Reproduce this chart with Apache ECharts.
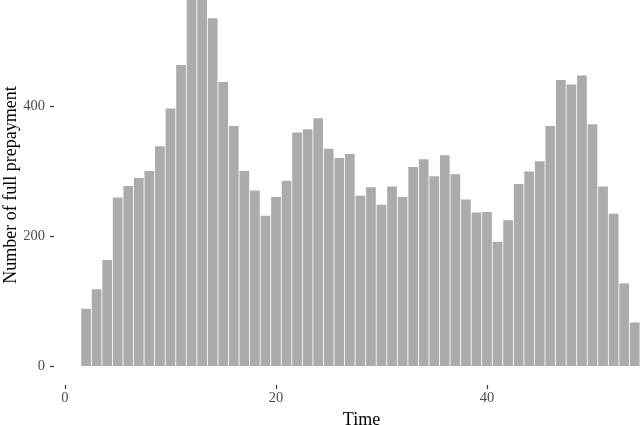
<!DOCTYPE html>
<html>
<head>
<meta charset="utf-8">
<title>Number of full prepayment</title>
<script src="https://cdn.jsdelivr.net/npm/echarts@6/dist/echarts.min.js"></script>
<style>
  html, body { margin: 0; padding: 0; background: #fff; }
  #main { width: 640px; height: 425px; }
</style>
</head>
<body>
<div id="main"></div>
<script>
// time index of each bar
var times = [];
for (var t = 2; t <= 54; t++) times.push(t);

// bar heights (12 and 13 run off the top)
var counts = [
  88, 118, 163, 259, 277, 289, 300, 338, 396, 463,
  584, 579, 535, 437, 369, 300, 270, 231, 260, 285,
  359, 364, 381, 334, 320, 326, 262, 275, 248, 276,
  260, 306, 318, 292, 324, 295, 256, 236, 237, 191,
  224, 280, 299, 315, 369, 440, 433, 447, 372, 276,
  234, 127, 67
];

var xTicks = [0, 20, 40];
var yTicks = [0, 200, 400];

var serif = '"Liberation Serif", "DejaVu Serif", serif';

var chart = echarts.init(document.getElementById('main'));
chart.setOption({
  backgroundColor: '#fff',
  animation: false,
  // panel runs a little past the right/top edge, like the cropped original
  grid: { left: 54, right: -29, top: -15, bottom: 40, outerBoundsMode: 'none', containLabel: false },
  xAxis: {
    type: 'value',
    min: -1.04,
    max: 57.25,
    name: 'Time',
    nameLocation: 'middle',
    nameGap: 22,
    nameTextStyle: { fontFamily: serif, fontSize: 18, color: '#000' },
    axisLine: { show: false, onZero: false },
    splitLine: { show: false },
    axisTick: { show: true, length: 4, customValues: xTicks, lineStyle: { color: '#333', width: 1.2 } },
    axisLabel: { customValues: xTicks, margin: 6, fontFamily: serif, fontSize: 14.5, color: '#4d4d4d' }
  },
  yAxis: {
    type: 'value',
    min: -29.2,
    max: 586,
    name: 'Number of full prepayment',
    nameLocation: 'middle',
    nameGap: 34,
    nameMoveOverlap: false,
    nameTextStyle: { fontFamily: serif, fontSize: 18, color: '#000' },
    axisLine: { show: false, onZero: false },
    splitLine: { show: false },
    axisTick: { show: true, length: 4, customValues: yTicks, lineStyle: { color: '#333', width: 1.2 } },
    axisLabel: { customValues: yTicks, margin: 9, fontFamily: serif, fontSize: 14.5, color: '#4d4d4d' }
  },
  series: [{
    type: 'bar',
    data: times.map(function (t, i) { return [t, counts[i]]; }),
    barWidth: 9.7,
    itemStyle: { color: '#ababab' },
    clip: true
  }]
});
</script>
</body>
</html>
